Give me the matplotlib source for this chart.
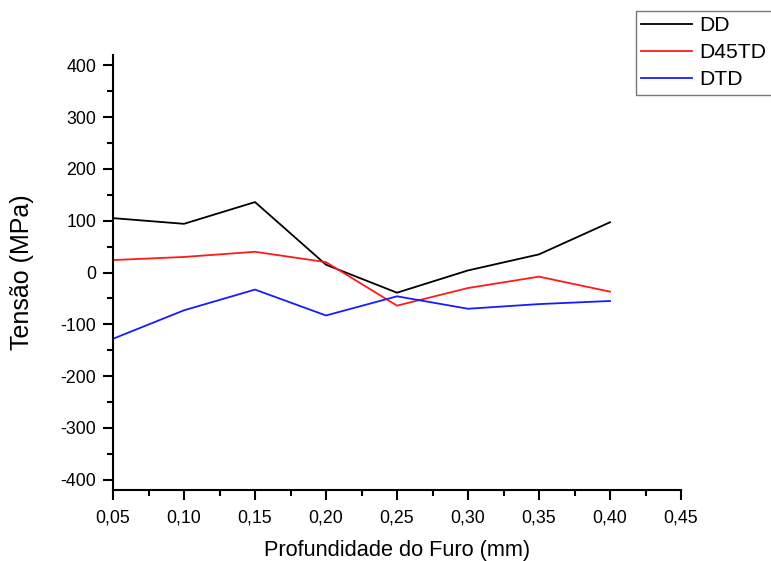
import matplotlib
matplotlib.use("Agg")
import matplotlib.pyplot as plt
from matplotlib.ticker import MultipleLocator, FuncFormatter

depth = [0.05, 0.10, 0.15, 0.20, 0.25, 0.30, 0.35, 0.40]
dd = [105, 94, 136, 15, -39, 4, 35, 97]
d45td = [24, 30, 40, 20, -64, -30, -8, -37]
dtd = [-128, -73, -33, -83, -46, -70, -61, -55]

plt.rcParams['font.family'] = ['Liberation Sans', 'DejaVu Sans']

fig = plt.figure(figsize=(7.71, 5.61), dpi=100)
ax = fig.add_axes([113/771, 1-490/561, (681-113)/771, (490-55)/561])

ax.plot(depth, dd, color='black', lw=1.3, label='DD')
ax.plot(depth, d45td, color='#ff1a1a', lw=1.3, label='D45TD')
ax.plot(depth, dtd, color='#1a1aff', lw=1.3, label='DTD')

ax.set_xlim(0.05, 0.45)
ax.set_ylim(-420, 420)
ax.xaxis.set_major_locator(MultipleLocator(0.05))
ax.xaxis.set_minor_locator(MultipleLocator(0.025))
ax.yaxis.set_major_locator(MultipleLocator(100))
ax.yaxis.set_minor_locator(MultipleLocator(50))
ax.xaxis.set_major_formatter(FuncFormatter(lambda v, p: f"{v:.2f}".replace('.', ',')))
ax.yaxis.set_major_formatter(FuncFormatter(lambda v, p: f"{int(round(v))}"))

for s in ['top', 'right']:
    ax.spines[s].set_visible(False)
for s in ['left', 'bottom']:
    ax.spines[s].set_linewidth(1.5)
ax.tick_params(which='major', direction='out', length=7, width=1.5, labelsize=12.8, colors='black')
ax.tick_params(axis='y', which='major', pad=5)
ax.tick_params(axis='x', which='major', pad=7)
ax.tick_params(which='minor', direction='out', length=4.5, width=1.5)

ax.set_xlabel('Profundidade do Furo (mm)', fontsize=15.7, labelpad=10)
ax.set_ylabel('Tensão (MPa)', fontsize=18, labelpad=19)

leg = fig.legend(loc='upper left', bbox_to_anchor=(636/771, 1-11/561), fontsize=15.2,
                 frameon=True, fancybox=False, edgecolor='#555555', borderaxespad=0,
                 handlelength=2.4, handletextpad=0.35, labelspacing=0.38, borderpad=0.25)
leg.get_frame().set_linewidth(1.0)

fig.savefig('out.png', dpi=100)
